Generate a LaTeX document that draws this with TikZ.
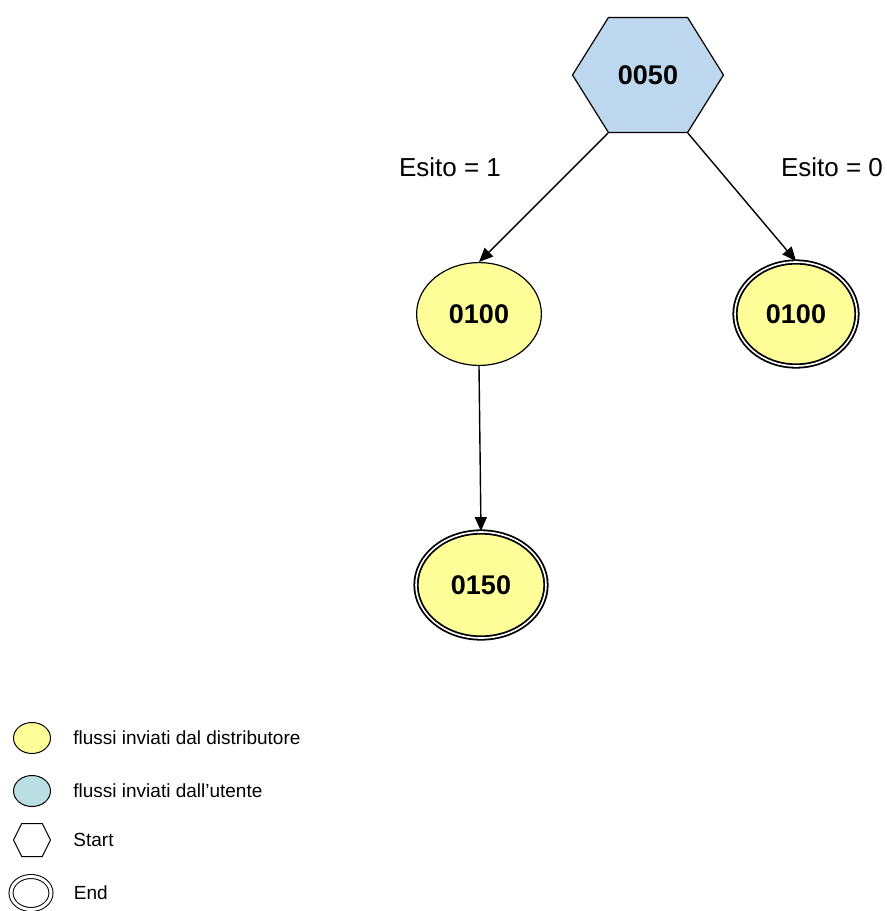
\documentclass[tikz,border=0pt]{standalone}
\usepackage{fontspec}
\setmainfont{Liberation Sans}
\usetikzlibrary{positioning,arrows.meta,shapes.geometric,shapes.symbols}
\definecolor{figyellow}{HTML}{FFFF99}
\definecolor{figblue}{HTML}{BDD7EE}
\definecolor{figcyan}{HTML}{B9DFE4}
\tikzset{
  fig/.style={font=\fontsize{13}{15}\selectfont},
  state/.style={ellipse,draw,line width=0.6pt,fill=figyellow,minimum width=62.4pt,
                minimum height=51.4pt,inner sep=1pt,font=\fontsize{13.5}{15}\selectfont\bfseries},
  endstate/.style={state,line width=0.9pt,double=white,double distance=0.8pt,
                   minimum width=61pt,minimum height=52pt},
  startstate/.style={signal,signal to=west and east,signal pointer angle=116,draw,
                     line width=0.6pt,fill=figblue,minimum width=75.5pt,minimum height=57.5pt,
                     inner sep=1pt,font=\fontsize{13.5}{15}\selectfont\bfseries},
  ln/.style={-{Triangle[length=7pt,width=6pt]},line width=0.7pt},
  lbl/.style={font=\fontsize{13}{15}\selectfont,inner sep=0pt},
  legtext/.style={font=\fontsize{9.5}{11}\selectfont,inner sep=0pt,anchor=west},
}

\begin{document}
\begin{tikzpicture}[fig,x=0.5pt,y=-0.5pt,
  legitem/.style={ellipse,draw,line width=0.5pt,minimum width=18.5pt,minimum height=15.5pt,inner sep=0pt},
  legstart/.style={signal,signal to=west and east,signal pointer angle=127,draw,line width=0.5pt,
                   fill=white,minimum width=18.5pt,minimum height=16.5pt,inner sep=0pt},
  legend/.style={legitem,double=white,double distance=1.5pt,minimum width=20pt,minimum height=16.5pt}]

\useasboundingbox (0,0) rectangle (887,911);

\node[startstate] (n0050) at (648,75) {0050};
\node[state] (n0100a) at (479,314) {0100};
\node[endstate] (n0100b) at (796,314) {0100};
\node[endstate,minimum width=65pt,minimum height=53pt] (n0150) at (481,585) {0150};

\node[lbl] (esito1) at (450,167) {Esito = 1};
\node[lbl] (esito0) at (832,167) {Esito = 0};

\draw[ln] (n0050.south west) -- (n0100a.north);
\draw[ln] (n0050.south east) -- (n0100b.north);
\draw[ln] (n0100a.south) -- (n0150.north);

\node[legitem,fill=figyellow] (ldist) at (32,738) {};
\node[legtext,right=11pt of ldist] (tdist) {flussi inviati dal distributore};
\node[legitem,fill=figcyan] (lutente) at (32,791) {};
\node[legtext,right=11pt of lutente] (tutente) {flussi inviati dall’utente};
\node[legstart] (lstart) at (32,840) {};
\node[legtext,right=11pt of lstart] (tstart) {Start};
\node[legend] (lend) at (31,893) {};
\node[legtext,right=11pt of lend] (tend) {End};

\end{tikzpicture}
\end{document}
